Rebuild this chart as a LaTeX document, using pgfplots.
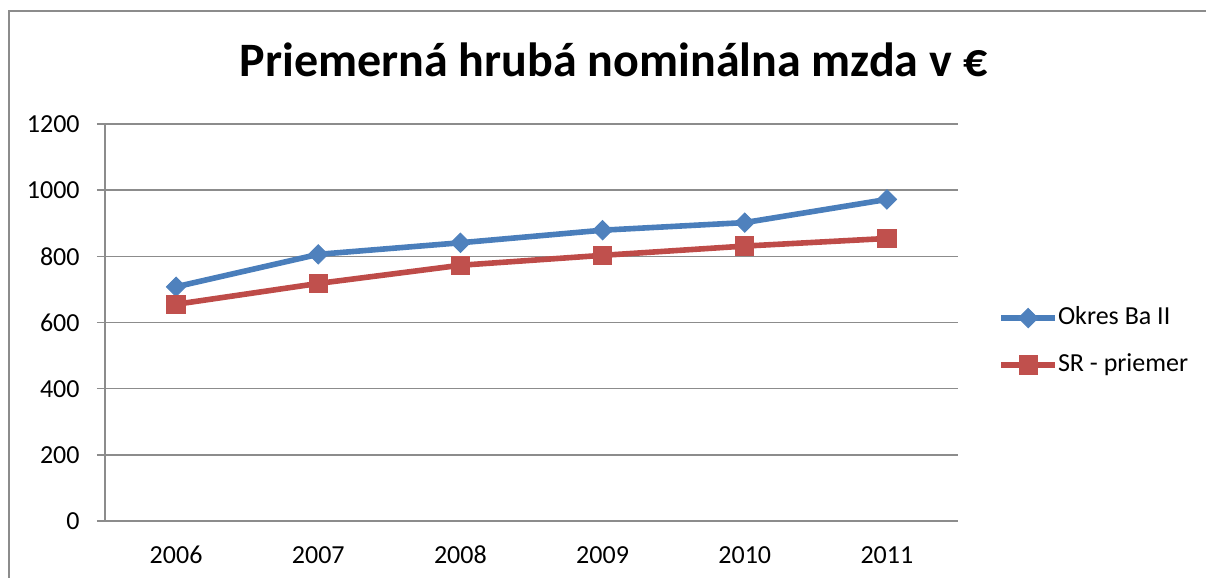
\documentclass[border=0pt]{standalone}
\usepackage{fontspec}
\setmainfont{Carlito}
\usepackage{pgfplots}
\pgfplotsset{compat=1.18}
\definecolor{bl}{HTML}{4A7EBB}
\definecolor{blm}{HTML}{4F81BD}
\definecolor{rd}{HTML}{BE4B48}
\definecolor{rdm}{HTML}{C0504D}
\definecolor{gr}{HTML}{8C8C8C}
\begin{document}
\begin{tikzpicture}[x=1pt,y=1pt]
\draw[gr, line width=0.8pt] (4.5,-10) -- (4.5,283.5) -- (620,283.5);
\node[anchor=base, inner sep=0pt, font=\fontsize{24}{28}\selectfont\bfseries] at (306.8,250.7) {Priemerná hrubá nominálna mzda v €};
\begin{axis}[
  at={(52.5pt,28.5pt)}, anchor=south west,
  scale only axis, width=426.5pt, height=198.5pt,
  xmin=0.5, xmax=6.5, ymin=0, ymax=1200,
  xtick={1,...,6}, xticklabels={2006,2007,2008,2009,2010,2011},
  minor xtick={0.5,1.5,...,6.5},
  ytick={0,200,...,1200},
  axis x line*=bottom, axis y line*=left,
  axis line style={gr, line width=0.8pt, -},
  tick style={gr, line width=0.8pt},
  major tick length=4pt, minor tick length=4pt,
  xtick style={draw=none}, minor x tick style={gr, line width=0.8pt},
  tick align=outside,
  ymajorgrids, grid style={gr, line width=0.8pt},
  ticklabel style={font=\fontsize{13}{15.6}\selectfont},
  /pgf/number format/assume math mode=true,
  /pgf/number format/1000 sep={},
  yticklabel style={anchor=east, inner sep=0pt, xshift=-8.5pt},
  xticklabel style={anchor=north, inner sep=0pt, text height=8.5pt, text depth=0pt, yshift=-8.5pt},
  legend style={at={(1.0469,0.452)}, anchor=west, draw=none, fill=none,
    font=\fontsize{13}{15.6}\selectfont, inner sep=0pt,
    nodes={inner sep=0pt, text height=9pt, text depth=3pt},
    row sep=11.5pt, /tikz/every odd column/.append style={column sep=0pt}},
  legend cell align=left,
  legend image code/.code={\draw[mark repeat=2,mark phase=2,#1] plot coordinates {(0pt,0pt)(13.5pt,0pt)(27pt,0pt)};},
  clip=false,
]
\addplot[bl, line width=2.8pt, mark=square*, mark size=3.4pt,
  mark options={rotate=45, fill=blm, draw=blm, line width=0.5pt}]
  coordinates {(1,708) (2,806) (3,841) (4,879) (5,902) (6,972)};
\addlegendentry{Okres Ba II}
\addplot[rd, line width=2.8pt, mark=square*, mark size=4.6pt,
  mark options={fill=rdm, draw=rdm, line width=0.5pt}]
  coordinates {(1,655) (2,718) (3,773) (4,803) (5,831) (6,854)};
\addlegendentry{SR - priemer}
\end{axis}
\pgfresetboundingbox
\useasboundingbox (0,0) rectangle (603,289);
\end{tikzpicture}
\end{document}
